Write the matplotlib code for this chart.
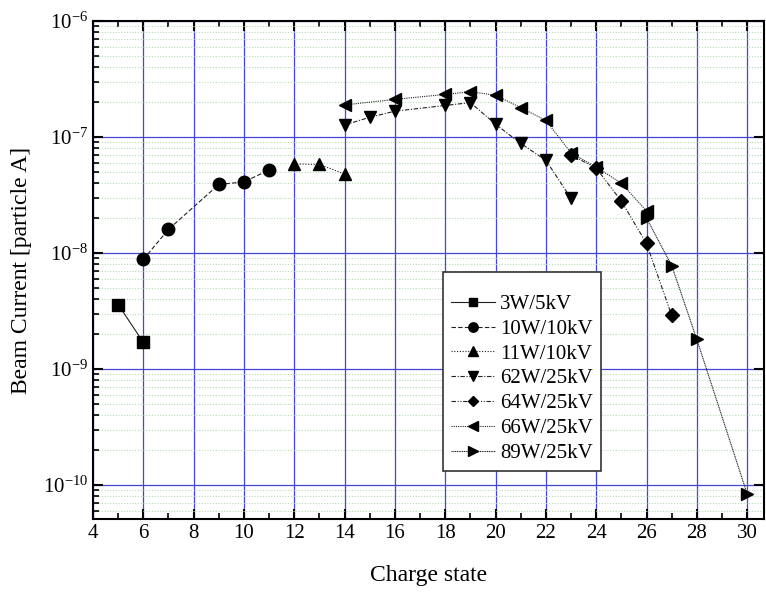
import numpy as np
import matplotlib
matplotlib.use("Agg")
import matplotlib.pyplot as plt
from matplotlib.ticker import LogLocator, LogFormatterMathtext, MultipleLocator, NullFormatter

plt.rcParams['font.family'] = ['Liberation Serif', 'DejaVu Serif']
plt.rcParams['mathtext.fontset'] = 'stix'

# data
x_3w = [5, 6]
y_3w = [3.6e-9, 1.7e-9]
x_10w = [6, 7, 9, 10, 11]
y_10w = [8.8e-9, 1.6e-8, 3.9e-8, 4.1e-8, 5.2e-8]
x_11w = [12, 13, 14]
y_11w = [5.85e-8, 5.8e-8, 4.8e-8]
x_62w = [14, 15, 16, 18, 19, 20, 21, 22, 23]
y_62w = [1.27e-7, 1.48e-7, 1.67e-7, 1.87e-7, 1.98e-7, 1.29e-7, 8.8e-8, 6.3e-8, 2.96e-8]
x_64w = [23, 24, 25, 26, 27]
y_64w = [7.0e-8, 5.4e-8, 2.8e-8, 1.21e-8, 2.9e-9]
x_66w = [14, 16, 18, 19, 20, 21, 22, 23, 24, 25, 26]
y_66w = [1.89e-7, 2.11e-7, 2.33e-7, 2.46e-7, 2.29e-7, 1.79e-7, 1.39e-7, 7.3e-8, 5.5e-8, 4.0e-8, 2.3e-8]
x_89w = [26, 27, 28, 30]
y_89w = [2.0e-8, 7.8e-9, 1.8e-9, 8.4e-11]

series = [
    (x_3w, y_3w, "3W/5kV", "s", "-"),
    (x_10w, y_10w, "10W/10kV", "o", (0, (4, 2))),
    (x_11w, y_11w, "11W/10kV", "^", (0, (1, 1.5))),
    (x_62w, y_62w, "62W/25kV", "v", (0, (4, 1.5, 1, 1.5))),
    (x_64w, y_64w, "64W/25kV", "D", (0, (4, 1.5, 1, 1.5, 1, 1.5))),
    (x_66w, y_66w, "66W/25kV", "<", (0, (1, 1))),
    (x_89w, y_89w, "89W/25kV", ">", (0, (1, 0.6))),
]

fig = plt.figure(figsize=(7.66, 5.93), dpi=100)
ax = fig.add_axes([0.1214, 0.1248, 0.876, 0.8398])

for xs, ys, lab, mk, ls in series:
    ms = 7 if mk == "D" else 9
    if mk == "s":
        ms = 8
    ax.plot(xs, ys, linestyle=ls, color="#222222", lw=0.8, marker=mk,
            ms=ms, mfc="black", mec="black", label=lab)

ax.set_yscale("log")
ax.set_xlim(4, 30.67)
ax.set_ylim(5.1e-11, 1e-6)

ax.xaxis.set_major_locator(MultipleLocator(2))
ax.xaxis.set_minor_locator(MultipleLocator(1))
ax.yaxis.set_major_locator(LogLocator(base=10, numticks=20))
ax.yaxis.set_major_formatter(LogFormatterMathtext())
ax.yaxis.set_minor_locator(LogLocator(base=10, subs=np.arange(2, 10), numticks=20))
ax.yaxis.set_minor_formatter(NullFormatter())

ax.grid(True, which="major", color="#4545d8", lw=0.9, ls="-")
ax.grid(True, which="minor", axis="y", color="#b8dcb8", lw=0.8, ls=(0, (1, 1.5)))
ax.set_axisbelow(True)

ax.tick_params(which="major", direction="in", length=7, width=1.5, top=True, right=True,
               labelsize=15)
ax.tick_params(which="minor", direction="in", length=4, width=1.2, top=True, right=False)
for sp in ax.spines.values():
    sp.set_linewidth(1.5)

ax.set_xlabel("Charge state", fontsize=17, labelpad=16)
ax.set_ylabel("Beam Current [particle A]", fontsize=17, labelpad=8)

leg = ax.legend(loc="upper left", bbox_to_anchor=(0.5216, 0.496), borderaxespad=0,
                fontsize=15, frameon=True, fancybox=False, edgecolor="#333333",
                framealpha=1, handlelength=2.1, handletextpad=0.25, borderpad=0.4,
                labelspacing=0.25, markerscale=0.75,
                title=" ", title_fontsize=7)
leg.get_frame().set_linewidth(1.2)

fig.savefig("out.png", dpi=100)
